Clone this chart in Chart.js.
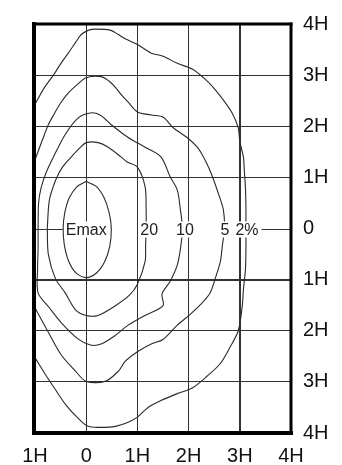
<!DOCTYPE html>
<html><head><meta charset="utf-8">
<script src="https://cdn.jsdelivr.net/npm/chart.js@4/dist/chart.umd.min.js"></script>
<style>html,body{margin:0;padding:0;background:#fff;}canvas{display:block;}</style>
</head><body>
<canvas id="c" width="342" height="465"></canvas>
<script>
// Axis tick labels (x: -1..4, y: 4..-4 top to bottom)
const xTickLabels = ['1H', '0', '1H', '2H', '3H', '4H'];
const yTickLabels = ['4H', '3H', '2H', '1H', '0', '1H', '2H', '3H', '4H'];

// Contour names and where each label sits on the 0 line (in H units)
const contourNames = ['Emax', '20', '10', '5', '2%'];
const contourLabelX = [0, 1.23, 1.93, 2.71, 3.14];

// Emax contour (closed)
const emaxX = [0, 0.2, 0.35, 0.45, 0.49, 0.46, 0.36, 0.2, 0, -0.2, -0.35, -0.43, -0.45, -0.42, -0.33, -0.18, 0];
const emaxY = [0.92, 0.82, 0.6, 0.3, 0, -0.35, -0.65, -0.87, -0.96, -0.87, -0.62, -0.3, 0, 0.3, 0.6, 0.82, 0.92];

// 20 % contour (closed)
const c20X = [-0.76, -0.72, -0.6, -0.47, -0.29, -0.12, 0, 0.23, 0.43, 0.68, 0.8, 1.0, 1.15, 1.17, 1.17, 1.16, 1.15, 1.0, 0.85, 0.57, 0.23, 0, -0.21, -0.41, -0.6, -0.74, -0.76];
const c20Y = [0, 0.55, 0.94, 1.19, 1.4, 1.58, 1.68, 1.68, 1.59, 1.4, 1.3, 1.2, 0.82, 0.4, 0, -0.35, -0.65, -1.09, -1.3, -1.51, -1.7, -1.7, -1.59, -1.26, -0.98, -0.5, 0];

// 10 % contour (closed)
const c10X = [-0.94, -0.93, -0.88, -0.78, -0.64, -0.41, -0.16, 0.08, 0.27, 0.49, 0.82, 1.15, 1.46, 1.64, 1.78, 1.84, 1.88, 1.84, 1.78, 1.64, 1.48, 1.5, 1.15, 0.82, 0.57, 0.29, 0.08, -0.16, -0.49, -0.72, -0.94, -0.95, -0.94, -0.94];
const c10Y = [0, 0.5, 0.8, 1.1, 1.4, 1.84, 2.16, 2.26, 2.22, 2.03, 1.78, 1.59, 1.4, 1.01, 0.75, 0.36, 0, -0.4, -0.71, -1.03, -1.28, -1.51, -1.7, -1.89, -2.09, -2.26, -2.28, -2.16, -1.84, -1.55, -1.26, -0.8, -0.4, 0];

// 5 % contour (leaves the frame on the left)
const c5X = [-1.05, -0.98, -0.86, -0.74, -0.62, -0.49, -0.33, -0.16, 0, 0.29, 0.45, 0.57, 0.7, 0.82, 1.0, 1.27, 1.5, 1.7, 1.97, 2.17, 2.29, 2.42, 2.58, 2.68, 2.7, 2.66, 2.62, 2.52, 2.42, 2.23, 2.03, 1.78, 1.5, 1.27, 1.0, 0.76, 0.63, 0.37, 0, -0.21, -0.49, -0.74, -0.98, -1.05];
const c5Y = [1.25, 1.4, 1.72, 2.03, 2.25, 2.47, 2.67, 2.83, 2.95, 2.97, 2.88, 2.76, 2.6, 2.47, 2.28, 2.22, 2.18, 1.97, 1.78, 1.59, 1.4, 1.13, 0.69, 0.36, 0, -0.33, -0.65, -0.98, -1.26, -1.49, -1.68, -1.89, -2.17, -2.26, -2.41, -2.6, -2.79, -2.99, -2.99, -2.79, -2.47, -2.03, -1.59, -1.45];

// 2 % contour (leaves the frame on the left)
const c2X = [-1.08, -0.98, -0.82, -0.64, -0.5, -0.35, -0.2, -0.1, 0.05, 0.18, 0.47, 0.62, 0.76, 1.0, 1.27, 1.5, 1.78, 2.07, 2.29, 2.48, 2.68, 2.85, 2.97, 3.0, 3.07, 3.09, 3.11, 3.12, 3.12, 3.12, 3.11, 3.07, 3.05, 2.97, 2.81, 2.62, 2.36, 2.07, 1.78, 1.45, 1.21, 1.0, 0.82, 0.57, 0.29, 0.04, -0.16, -0.39, -0.61, -0.8, -0.98, -1.08];
const c2Y = [2.32, 2.47, 2.75, 3.0, 3.22, 3.43, 3.65, 3.79, 3.88, 3.9, 3.88, 3.8, 3.71, 3.6, 3.43, 3.37, 3.23, 3.12, 2.95, 2.76, 2.51, 2.26, 1.97, 1.7, 1.4, 1.1, 0.8, 0.4, 0, -0.4, -0.8, -1.2, -1.5, -2.0, -2.32, -2.64, -2.89, -3.12, -3.23, -3.37, -3.5, -3.69, -3.79, -3.87, -3.89, -3.87, -3.71, -3.46, -3.14, -2.85, -2.56, -2.4];

function pts(xs, ys) { return xs.map((x, i) => ({ x: x, y: ys[i] })); }

const curveStyle = { showLine: true, pointRadius: 0, borderColor: '#2a2a2a', borderWidth: 1.1, tension: 0.3, fill: false, clip: 0 };

const TICK_FONT = { family: 'Liberation Sans, Arial, sans-serif', size: 20 };
const LABEL_FONT = '16px "Liberation Sans", Arial, sans-serif';

const framePlugin = {
  id: 'frame',
  afterDatasetsDraw(chart) {
    const { ctx, chartArea: a, scales } = chart;
    const x = scales.x, y = scales.y;
    const y0 = Math.round(y.getPixelForValue(0)) + 0.5;
    ctx.save();
    ctx.font = LABEL_FONT;
    ctx.textBaseline = 'middle';
    ctx.textAlign = 'center';
    let firstLeft = null, lastRight = null;
    contourNames.forEach((name, i) => {
      const px = x.getPixelForValue(contourLabelX[i]);
      const w = ctx.measureText(name).width;
      ctx.fillStyle = '#fff';
      ctx.fillRect(px - w / 2 - 1, y0 - 8, w + 2, 16);
      ctx.fillStyle = '#222';
      ctx.fillText(name, px, y0 + 1);
      if (firstLeft === null) firstLeft = px - w / 2 - 3;
      lastRight = px + w / 2 + 3;
    });
    // leader lines along the 0 axis
    ctx.strokeStyle = '#333';
    ctx.lineWidth = 1;
    ctx.beginPath();
    ctx.moveTo(a.left, y0); ctx.lineTo(firstLeft, y0);
    ctx.moveTo(lastRight, y0); ctx.lineTo(a.right, y0);
    ctx.stroke();
    // frame
    ctx.strokeStyle = '#000';
    ctx.lineCap = 'square';
    const side = (x1, y1, x2, y2, w) => { ctx.lineWidth = w; ctx.beginPath(); ctx.moveTo(x1, y1); ctx.lineTo(x2, y2); ctx.stroke(); };
    side(a.left - 1, a.top, a.left - 1, a.bottom, 4);
    side(a.left, a.top, a.right, a.top, 3);
    side(a.right, a.top, a.right, a.bottom, 3);
    side(a.left, a.bottom, a.right, a.bottom, 4);
    ctx.restore();
  }
};

new Chart(document.getElementById('c'), {
  type: 'scatter',
  data: {
    datasets: [
      { label: 'Emax', data: pts(emaxX, emaxY), ...curveStyle },
      { label: '20', data: pts(c20X, c20Y), ...curveStyle },
      { label: '10', data: pts(c10X, c10Y), ...curveStyle },
      { label: '5', data: pts(c5X, c5Y), ...curveStyle },
      { label: '2%', data: pts(c2X, c2Y), ...curveStyle }
    ]
  },
  options: {
    responsive: false,
    animation: false,
    devicePixelRatio: 1,
    layout: { padding: { left: 35, top: 15, right: 0, bottom: 0 } },
    plugins: { legend: { display: false }, tooltip: { enabled: false } },
    scales: {
      x: {
        type: 'linear', position: 'bottom', min: -1, max: 4,
        afterFit(s) { s.height = 32; },
        border: { display: false },
        grid: {
          drawTicks: false,
          color: '#333',
          lineWidth: c => (c.tick && c.tick.value === 3 ? 2 : 1)
        },
        ticks: {
          stepSize: 1, padding: 11, color: '#111', font: TICK_FONT, maxRotation: 0,
          callback: v => xTickLabels[Math.round(v) + 1]
        }
      },
      y: {
        type: 'linear', position: 'right', min: -4, max: 4,
        afterFit(s) { s.width = 51; },
        border: { display: false },
        grid: {
          drawTicks: false,
          color: c => (c.tick && c.tick.value === 0 ? 'rgba(0,0,0,0)' : '#333'),
          lineWidth: c => (c.tick && c.tick.value === -1 ? 2 : 1)
        },
        ticks: {
          stepSize: 1, padding: 12, color: '#111', font: TICK_FONT,
          callback: v => yTickLabels[4 - Math.round(v)]
        }
      }
    }
  },
  plugins: [framePlugin]
});
</script>
</body></html>
